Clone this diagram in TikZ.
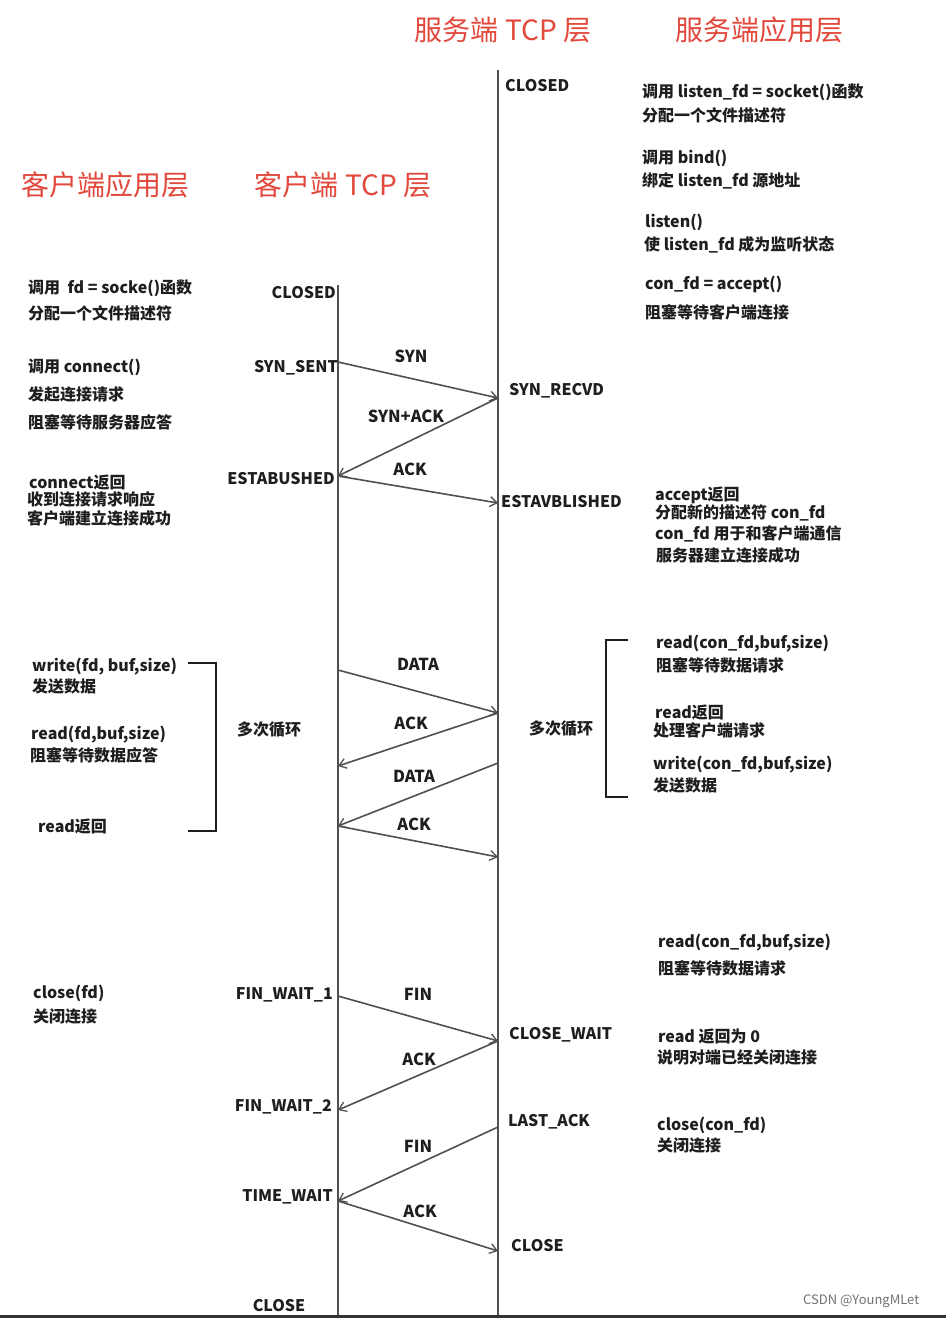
\documentclass[tikz,border=0pt]{standalone}
\usepackage{fontspec}
\setmainfont{Noto Sans CJK SC}
\usetikzlibrary{arrows.meta}
\definecolor{hdr}{RGB}{226,72,60}
\definecolor{ln}{RGB}{80,80,80}
\definecolor{txt}{RGB}{30,30,30}
\begin{document}
\begin{tikzpicture}[x=1pt,y=-1pt,
  hd/.style={font=\fontsize{28}{32}\selectfont, text=hdr, inner sep=0},
  tx/.style={font=\bfseries\fontsize{16}{19}\selectfont, text=txt, inner sep=0, anchor=west},
  st/.style={font=\bfseries\fontsize{16}{19}\selectfont, text=txt, inner sep=0},
  msg/.style={font=\bfseries\fontsize{16.5}{19}\selectfont, text=txt, inner sep=0},
  life/.style={draw=ln, line width=2.2pt},
  arr/.style={draw=ln, line width=1.6pt, -{Straight Barb[length=7pt,width=10pt,line width=1.3pt]}},
  brk/.style={draw=txt, line width=2.4pt}]
\fill[white] (0,0) rectangle (946,1318);
\useasboundingbox (0,0) rectangle (946,1318);
% headers
\node[hd] (h1) at (503,30) {服务端 TCP 层};
\node[hd] (h2) at (759,30) {服务端应用层};
\node[hd] (h3) at (105,185) {客户端应用层};
\node[hd] (h4) at (343,185) {客户端 TCP 层};
% lifelines
\coordinate (ct) at (338,285);
\coordinate (cb) at (338,1318);
\coordinate (stp) at (498,70);
\coordinate (sb) at (498,1318);
\draw[life] (ct) -- (cb);
\draw[life] (stp) -- (sb);
\coordinate (bl) at (0,1316.5);
\coordinate (br) at (946,1316.5);
\draw[draw=black!80, line width=3pt] (bl) -- (br);
% arrow endpoints
\coordinate (c1) at (338,362);  \coordinate (s1) at (498,398);
\coordinate (c2) at (338,476);  \coordinate (s2) at (498,503);
\coordinate (c3) at (338,670);  \coordinate (s3) at (498,713);
\coordinate (c4) at (338,766);  \coordinate (s4) at (498,763);
\coordinate (c5) at (338,826);  \coordinate (s5) at (498,857);
\coordinate (c6) at (338,996);  \coordinate (s6) at (498,1041);
\coordinate (c7) at (338,1110); \coordinate (s7) at (498,1127);
\coordinate (c8) at (338,1201); \coordinate (s8) at (498,1251);
\draw[arr] (c1) -- (s1);
\draw[arr] (s1) -- (c2);
\draw[arr] (c2) -- (s2);
\draw[arr] (c3) -- (s3);
\draw[arr] (s3) -- (c4);
\draw[arr] (s4) -- (c5);
\draw[arr] (c5) -- (s5);
\draw[arr] (c6) -- (s6);
\draw[arr] (s6) -- (c7);
\draw[arr] (s7) -- (c8);
\draw[arr] (c8) -- (s8);
% message labels
\node[msg] (m1) at (411,356) {SYN};
\node[msg] (m2) at (406,416) {SYN+ACK};
\node[msg] (m3) at (410,469) {ACK};
\node[msg] (m4) at (418,664) {DATA};
\node[msg] (m5) at (411,723) {ACK};
\node[msg] (m6) at (414,776) {DATA};
\node[msg] (m7) at (414,824) {ACK};
\node[msg] (m8) at (418,994) {FIN};
\node[msg] (m9) at (419,1059) {ACK};
\node[msg] (m10) at (418,1146) {FIN};
\node[msg] (m11) at (420,1211) {ACK};
% client states
\node[st, anchor=east] (cs1) at (336,293) {CLOSED};
\node[st, anchor=east] (cs2) at (338,368) {SYN\_SENT};
\node[st, anchor=east] (cs3) at (335,479) {ESTABUSHED};
\node[st, anchor=east] (cs4) at (333,995) {FIN\_WAIT\_1};
\node[st, anchor=east] (cs5) at (332,1107) {FIN\_WAIT\_2};
\node[st, anchor=east] (cs6) at (333,1197) {TIME\_WAIT};
\node[st] (cs7) at (279,1306) {CLOSE};
% server states
\node[st, anchor=west] (ss1) at (505,86) {CLOSED};
\node[st, anchor=west] (ss2) at (509,391) {SYN\_RECVD};
\node[st, anchor=west] (ss3) at (501,502) {ESTAVBLISHED};
\node[st, anchor=west] (ss4) at (509,1035) {CLOSE\_WAIT};
\node[st, anchor=west] (ss5) at (508,1122) {LAST\_ACK};
\node[st, anchor=west] (ss6) at (511,1246) {CLOSE};
% client application text
\node[tx] (a1) at (28,288) {调用\ \ fd = socke()函数};
\node[tx] (a2) at (28,313) {分配一个文件描述符};
\node[tx] (a3) at (28,367) {调用 connect()};
\node[tx] (a4) at (28,394) {发起连接请求};
\node[tx] (a5) at (28,422) {阻塞等待服务器应答};
\node[tx] (a6) at (29,482) {connect返回};
\node[tx] (a7) at (27,499) {收到连接请求响应};
\node[tx] (a8) at (27,518) {客户端建立连接成功};
\node[tx] (a9) at (32,667) {write(fd, buf,size)};
\node[tx] (a10) at (32,686) {发送数据};
\node[tx] (a11) at (31,735) {read(fd,buf,size)};
\node[tx] (a12) at (30,755) {阻塞等待数据应答};
\node[tx] (a13) at (38,826) {read返回};
\node[tx] (a14) at (33,993) {close(fd)};
\node[tx] (a15) at (33,1016) {关闭连接};
\node[tx] (lp1) at (237,730) {多次循环};
\draw[brk] (188,663) -- (216,663) -- (216,831) -- (188,831);
% server application text
\node[tx] (b1) at (642,92) {调用 listen\_fd = socket()函数};
\node[tx] (b2) at (642,115) {分配一个文件描述符};
\node[tx] (b3) at (642,158) {调用 bind()};
\node[tx] (b4) at (642,181) {绑定 listen\_fd 源地址};
\node[tx] (b5) at (645,222) {listen()};
\node[tx] (b6) at (644,245) {使 listen\_fd 成为监听状态};
\node[tx] (b7) at (645,284) {con\_fd = accept()};
\node[tx] (b8) at (645,312) {阻塞等待客户端连接};
\node[tx] (b9) at (655,495) {accept返回};
\node[tx] (b10) at (655,513) {分配新的描述符 con\_fd};
\node[tx] (b11) at (655,534) {con\_fd 用于和客户端通信};
\node[tx] (b12) at (656,555) {服务器建立连接成功};
\node[tx] (lp2) at (529,729) {多次循环};
\draw[brk] (628,640) -- (606,640) -- (606,797) -- (628,797);
\node[tx] (b13) at (656,644) {read(con\_fd,buf,size)};
\node[tx] (b14) at (656,665) {阻塞等待数据请求};
\node[tx] (b15) at (655,712) {read返回};
\node[tx] (b16) at (653,730) {处理客户端请求};
\node[tx] (b17) at (653,765) {write(con\_fd,buf,size)};
\node[tx] (b18) at (653,785) {发送数据};
\node[tx] (b19) at (658,943) {read(con\_fd,buf,size)};
\node[tx] (b20) at (658,968) {阻塞等待数据请求};
\node[tx] (b21) at (658,1036) {read 返回为 0};
\node[tx] (b22) at (657,1057) {说明对端已经关闭连接};
\node[tx] (b23) at (657,1125) {close(con\_fd)};
\node[tx] (b24) at (657,1145) {关闭连接};
\node[font=\fontsize{13}{15}\selectfont, text=black!55, inner sep=0, anchor=west] (wm) at (803,1301) {CSDN @YoungMLet};
\end{tikzpicture}
\end{document}
